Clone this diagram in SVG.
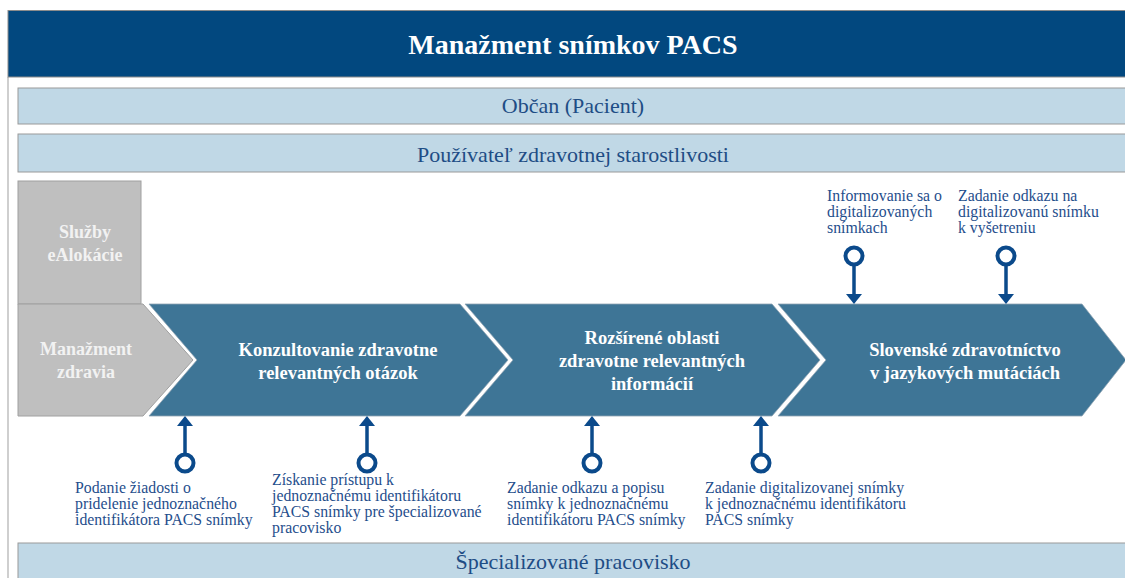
<svg xmlns="http://www.w3.org/2000/svg" width="1125" height="578" viewBox="0 0 1125 578">
  <style>
    .title { font-family: "Liberation Serif", "Times New Roman", serif; font-weight: bold; font-size: 28px; fill: #FFFFFF; text-anchor: middle; }
    .band { fill: #C0D8E6; stroke: #9A9A9A; stroke-width: 1; }
    .bandText { font-family: "Liberation Serif", "Times New Roman", serif; font-size: 22px; fill: #1E4D85; text-anchor: middle; }
    .grayBox { fill: #BFBFBF; stroke: #A0A0A0; stroke-width: 1; }
    .grayText { font-family: "Liberation Serif", "Times New Roman", serif; font-weight: bold; font-size: 18px; fill: #F2F2F2; text-anchor: middle; }
    .chev { fill: #3E7596; stroke: #8FA3B3; stroke-width: 0.8; }
    .chevText { font-family: "Liberation Serif", "Times New Roman", serif; font-weight: bold; font-size: 18.5px; fill: #FFFFFF; text-anchor: middle; }
    .label { font-family: "Liberation Serif", "Times New Roman", serif; font-size: 15.8px; fill: #1F4E8C; }
    .pinLine { stroke: #0B4A8B; stroke-width: 3.5; fill: none; }
    .pinRing { stroke: #0B4A8B; stroke-width: 4; fill: #FFFFFF; }
  </style>
  <defs>
    <marker id="pinHead" markerUnits="userSpaceOnUse" markerWidth="10" markerHeight="16" viewBox="0 0 10 16" refX="0" refY="8" orient="auto">
      <path d="M0,0 L10,8 L0,16 Z" fill="#0B4A8B"/>
    </marker>
  </defs>

  <rect width="1125" height="578" fill="#FFFFFF"/>

  <!-- frame -->
  <line x1="8" y1="77" x2="8" y2="578" stroke="#BFBFBF" stroke-width="1.5"/>

  <!-- header -->
  <g id="header">
    <rect x="8" y="10.5" width="1125" height="66.5" fill="#02487F" stroke="#8C8C8C" stroke-width="1"/>
    <text class="title" x="573" y="54">Manažment snímkov PACS</text>
  </g>

  <!-- actor bands -->
  <g id="band-obcan">
    <rect class="band" x="18" y="88" width="1115" height="36"/>
    <text class="bandText" x="573" y="113">Občan (Pacient)</text>
  </g>
  <g id="band-pouzivatel">
    <rect class="band" x="18" y="134" width="1115" height="38"/>
    <text class="bandText" x="573" y="162">Používateľ zdravotnej starostlivosti</text>
  </g>
  <g id="band-pracovisko">
    <rect class="band" x="18" y="543" width="1115" height="40"/>
    <text class="bandText" x="573" y="569">Špecializované pracovisko</text>
  </g>

  <!-- service blocks -->
  <g id="sluzby-ealokacie">
    <rect class="grayBox" x="18" y="181" width="123" height="123"/>
    <text class="grayText" x="85" y="238">Služby</text>
    <text class="grayText" x="85" y="261">eAlokácie</text>
  </g>
  <g id="manazment-zdravia">
    <polygon class="grayBox" points="18,304 143,304 193,360 143,416 18,416"/>
    <text class="grayText" x="86" y="355">Manažment</text>
    <text class="grayText" x="86" y="378">zdravia</text>
  </g>

  <g id="konzultovanie">
    <polygon class="chev" points="149,304 460,304 508,360 460,416 149,416 197,360"/>
    <text class="chevText" x="338" y="356">Konzultovanie zdravotne</text>
    <text class="chevText" x="338" y="379">relevantných otázok</text>
  </g>
  <g id="rozsirene-oblasti">
    <polygon class="chev" points="465,304 772,304 820,360 772,416 465,416 513,360"/>
    <text class="chevText" x="652" y="344">Rozšírené oblasti</text>
    <text class="chevText" x="652" y="367">zdravotne relevantných</text>
    <text class="chevText" x="652" y="390">informácií</text>
  </g>
  <g id="slovenske-zdravotnictvo">
    <polygon class="chev" points="778,304 1082,304 1126,360 1082,416 778,416 826,360"/>
    <text class="chevText" x="965" y="356">Slovenské zdravotníctvo</text>
    <text class="chevText" x="965" y="379">v jazykových mutáciách</text>
  </g>

  <!-- connectors: interaction pins -->
  <g id="connectors">
    <line class="pinLine" x1="185" y1="454" x2="185" y2="426" marker-end="url(#pinHead)"/>
    <circle class="pinRing" cx="185" cy="463" r="8.5"/>
    <line class="pinLine" x1="367" y1="454" x2="367" y2="426" marker-end="url(#pinHead)"/>
    <circle class="pinRing" cx="367" cy="463" r="8.5"/>
    <line class="pinLine" x1="592" y1="454" x2="592" y2="426" marker-end="url(#pinHead)"/>
    <circle class="pinRing" cx="592" cy="463" r="8.5"/>
    <line class="pinLine" x1="761" y1="454" x2="761" y2="426" marker-end="url(#pinHead)"/>
    <circle class="pinRing" cx="761" cy="463" r="8.5"/>
    <line class="pinLine" x1="854" y1="265" x2="854" y2="294" marker-end="url(#pinHead)"/>
    <circle class="pinRing" cx="854" cy="256" r="8.5"/>
    <line class="pinLine" x1="1006" y1="265" x2="1006" y2="294" marker-end="url(#pinHead)"/>
    <circle class="pinRing" cx="1006" cy="256" r="8.5"/>
  </g>

  <!-- interaction labels -->
  <g id="label-podanie">
    <text class="label" x="75" y="493">Podanie žiadosti o</text>
    <text class="label" x="75" y="509">pridelenie jednoznačného</text>
    <text class="label" x="75" y="525">identifikátora PACS snímky</text>
  </g>
  <g id="label-ziskanie">
    <text class="label" x="272" y="485">Získanie prístupu k</text>
    <text class="label" x="272" y="501">jednoznačnému identifikátoru</text>
    <text class="label" x="272" y="517">PACS snímky pre špecializované</text>
    <text class="label" x="272" y="533">pracovisko</text>
  </g>
  <g id="label-odkaz-popis">
    <text class="label" x="507" y="493">Zadanie odkazu a popisu</text>
    <text class="label" x="507" y="509">snímky k jednoznačnému</text>
    <text class="label" x="507" y="525">identifikátoru PACS snímky</text>
  </g>
  <g id="label-digitalizovana">
    <text class="label" x="705" y="493">Zadanie digitalizovanej snímky</text>
    <text class="label" x="705" y="509">k jednoznačnému identifikátoru</text>
    <text class="label" x="705" y="525">PACS snímky</text>
  </g>
  <g id="label-informovanie">
    <text class="label" x="827" y="201">Informovanie sa o</text>
    <text class="label" x="827" y="217">digitalizovaných</text>
    <text class="label" x="827" y="233">snímkach</text>
  </g>
  <g id="label-odkaz-vysetrenie">
    <text class="label" x="958" y="201">Zadanie odkazu na</text>
    <text class="label" x="958" y="217">digitalizovanú snímku</text>
    <text class="label" x="958" y="233">k vyšetreniu</text>
  </g>
</svg>
